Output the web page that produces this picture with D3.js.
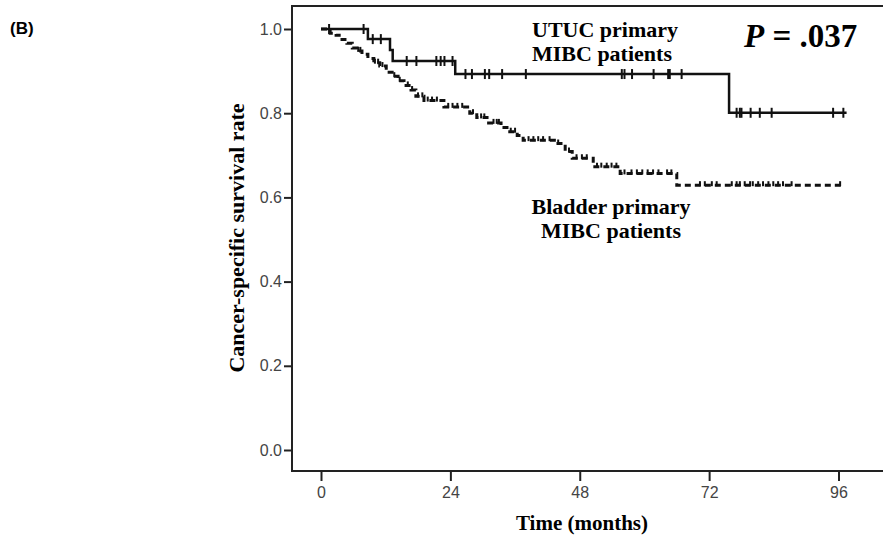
<!DOCTYPE html>
<html>
<head>
<meta charset="utf-8">
<script src="https://cdn.jsdelivr.net/npm/d3@7"></script>
<style>
  body { margin: 0; background: #fff; }
  svg { display: block; }
</style>
</head>
<body>
<svg width="883" height="537"></svg>
<script>
// x ticks (months) and y ticks (survival)
var timeTicks = [0, 24, 48, 72, 96];
var survTicks = [0, 0.2, 0.4, 0.6, 0.8, 1.0];

// UTUC primary MIBC: event times and survival after each event
var utucTimes = [8.7, 12.8, 13.3, 24.9, 75.7];
var utucSurv = [0.976, 0.95, 0.924, 0.893, 0.801];
var utucEnd = 97.5;
var utucCensor = [1.5, 7.9, 9.6, 11.1, 15.9, 17.7, 21.4, 22.2, 22.9, 24.4, 26.8, 28.0, 30.4, 31.2, 33.6, 38.0,
  55.8, 56.3, 57.7, 61.7, 64.4, 64.7, 66.9, 77.1, 77.7, 78.0, 79.7, 81.4, 83.6, 95.0, 96.9];

// Bladder primary MIBC
var bladderTimes = [1.7, 2.8, 3.9, 4.8, 5.8, 6.7, 7.6, 8.7, 9.8, 10.9, 12.1, 13.2, 14.3, 15.4, 16.7, 17.6, 19.1,
  22.8, 27.6, 28.9, 30.8, 33.4, 34.5, 36.4, 37.5, 43.6, 45.3, 46.6, 50.5, 55.5, 66.0];
var bladderSurv = [0.99, 0.985, 0.975, 0.966, 0.955, 0.948, 0.94, 0.93, 0.92, 0.912, 0.897, 0.888, 0.877, 0.866,
  0.855, 0.84, 0.83, 0.815, 0.80, 0.79, 0.777, 0.766, 0.756, 0.747, 0.736, 0.728, 0.709, 0.693, 0.673, 0.657, 0.629];
var bladderEnd = 97;
var bladderCensor = [6.9, 7.3, 10.0, 10.6, 11.4, 13.6, 14.6, 16.1, 16.9, 18.0, 18.8, 19.8, 20.6, 21.5, 23.6, 24.4,
  25.3, 26.2, 28.2, 29.7, 30.3, 32.0, 32.6, 33.0, 35.2, 36.0, 38.5, 39.4, 40.3, 41.2, 42.4, 44.0, 46.0, 47.4, 48.4,
  49.3, 51.2, 52.0, 53.0, 53.9, 54.8, 56.3, 57.6, 58.6, 59.6, 60.6, 61.6, 62.6, 64.2, 65.0,
  70.3, 71.2, 72.5, 73.4, 76.2, 77.1, 77.7, 78.6, 79.6, 80.1, 81.1, 82.0, 83.0, 83.9, 84.8, 85.7, 87.3, 96.3];

var svg = d3.select("svg");

var x = d3.scaleLinear().domain([0, 96]).range([321, 838.5]);
var y = d3.scaleLinear().domain([0, 1]).range([450, 29]);

var frameL = 292, frameT = 6, frameB = 471, frameR = 883;

// frame
svg.append("path")
  .attr("d", "M" + frameR + "," + frameT + "H" + frameL + "V" + frameB + "H" + frameR)
  .attr("fill", "none")
  .attr("stroke", "#222")
  .attr("stroke-width", 2);

var tickFont = "'Liberation Sans Narrow', 'Liberation Sans', sans-serif";

var yAxis = svg.append("g")
  .attr("transform", "translate(" + frameL + ",0)")
  .call(d3.axisLeft(y).tickValues(survTicks).tickSize(8).tickPadding(2).tickFormat(d3.format(".1f")));
yAxis.select(".domain").remove();
yAxis.selectAll("line").attr("stroke", "#222").attr("stroke-width", 2);
yAxis.selectAll("text")
  .attr("fill", "#444")
  .style("font-family", tickFont)
  .style("font-size", "16px");

var xAxis = svg.append("g")
  .attr("transform", "translate(0," + frameB + ")")
  .call(d3.axisBottom(x).tickValues(timeTicks).tickSize(10).tickPadding(6));
xAxis.select(".domain").remove();
xAxis.selectAll("line").attr("stroke", "#222").attr("stroke-width", 2);
xAxis.selectAll("text")
  .attr("fill", "#444")
  .style("font-family", tickFont)
  .style("font-size", "16px");

function steps(times, surv, end) {
  var pts = [[0, 1]];
  times.forEach(function (t, i) { pts.push([t, surv[i]]); });
  pts.push([end, surv[surv.length - 1]]);
  return pts;
}

function survAt(times, surv, t) {
  var s = 1;
  times.forEach(function (tt, i) { if (tt <= t) s = surv[i]; });
  return s;
}

var line = d3.line()
  .x(function (d) { return x(d[0]); })
  .y(function (d) { return y(d[1]); })
  .curve(d3.curveStepAfter);

// bladder (dashed)
svg.append("path")
  .datum(steps(bladderTimes, bladderSurv, bladderEnd))
  .attr("d", line)
  .attr("fill", "none")
  .attr("stroke", "#111")
  .attr("stroke-width", 3)
  .attr("stroke-dasharray", "6,4");

svg.selectAll(".bc")
  .data(bladderCensor)
  .enter().append("line")
  .attr("class", "bc")
  .attr("x1", function (d) { return x(d); })
  .attr("x2", function (d) { return x(d); })
  .attr("y1", function (d) { return y(survAt(bladderTimes, bladderSurv, d)) - 4; })
  .attr("y2", function (d) { return y(survAt(bladderTimes, bladderSurv, d)) + 1; })
  .attr("stroke", "#111")
  .attr("stroke-width", 2);

// UTUC (solid)
svg.append("path")
  .datum(steps(utucTimes, utucSurv, utucEnd))
  .attr("d", line)
  .attr("fill", "none")
  .attr("stroke", "#111")
  .attr("stroke-width", 2.5);

svg.selectAll(".uc")
  .data(utucCensor)
  .enter().append("line")
  .attr("class", "uc")
  .attr("x1", function (d) { return x(d); })
  .attr("x2", function (d) { return x(d); })
  .attr("y1", function (d) { return y(survAt(utucTimes, utucSurv, d)) - 5; })
  .attr("y2", function (d) { return y(survAt(utucTimes, utucSurv, d)) + 5; })
  .attr("stroke", "#111")
  .attr("stroke-width", 2);

var serif = "'Liberation Serif', 'Times New Roman', serif";

// labels
svg.append("text")
  .attr("transform", "translate(244,238) rotate(-90)")
  .attr("text-anchor", "middle")
  .style("font-family", serif).style("font-weight", "bold").style("font-size", "22px")
  .text("Cancer-specific survival rate");

svg.append("text")
  .attr("x", 582).attr("y", 530)
  .attr("text-anchor", "middle")
  .style("font-family", serif).style("font-weight", "bold").style("font-size", "21px")
  .text("Time (months)");

var utucLabel = svg.append("text")
  .style("font-family", serif).style("font-weight", "bold").style("font-size", "22px");
utucLabel.append("tspan").attr("x", 532).attr("y", 37).text("UTUC primary");
utucLabel.append("tspan").attr("x", 532).attr("y", 61).text("MIBC patients");

var bladLabel = svg.append("text")
  .attr("text-anchor", "middle")
  .style("font-family", serif).style("font-weight", "bold").style("font-size", "22px");
bladLabel.append("tspan").attr("x", 611).attr("y", 214).text("Bladder primary");
bladLabel.append("tspan").attr("x", 611).attr("y", 238).text("MIBC patients");

var pLabel = svg.append("text")
  .attr("x", 744).attr("y", 47)
  .style("font-family", serif).style("font-weight", "bold").style("font-size", "33px");
pLabel.append("tspan").style("font-style", "italic").text("P");
pLabel.append("tspan").text(" = .037");

svg.append("text")
  .attr("x", 10).attr("y", 34)
  .style("font-family", "'Liberation Sans', Arial, sans-serif").style("font-weight", "bold").style("font-size", "17px")
  .text("(B)");
</script>
</body>
</html>
